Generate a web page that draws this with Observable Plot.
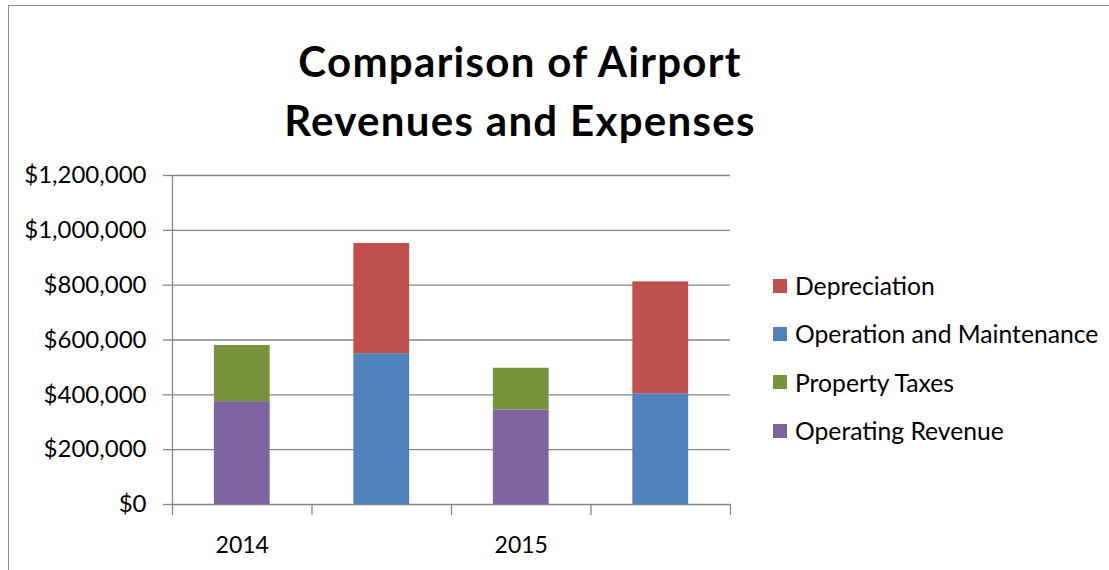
<!DOCTYPE html>
<html>
<head>
<meta charset="utf-8">
<script src="https://cdn.jsdelivr.net/npm/d3@7"></script>
<script src="https://cdn.jsdelivr.net/npm/@observablehq/plot@0.6"></script>
<style>
  html, body { margin: 0; padding: 0; background: #fff; }
  #wrap { position: relative; width: 1109px; height: 570px; overflow: hidden; font-family: Lato, "Open Sans", sans-serif; color: #000; }
  #frame { position: absolute; left: 8px; top: 5px; width: 1200px; height: 700px; border-left: 1.5px solid #8c8c8c; border-top: 1.5px solid #8c8c8c; }
  #title { position: absolute; left: 0; top: 32px; width: 1040px; text-align: center; font-size: 42px; font-weight: 700; line-height: 59px; letter-spacing: 1.3px; }
  #chart { position: absolute; left: 0; top: 150px; }
  #legend { position: absolute; left: 773px; top: 261.5px; font-size: 24.7px; }
  .row { height: 48.3px; display: flex; align-items: center; }
  .sw { width: 14px; height: 14px; margin-right: 8px; }
</style>
</head>
<body>
<div id="wrap">
  <div id="frame"></div>
  <div id="title">Comparison of Airport<br>Revenues and Expenses</div>
  <div id="chart"></div>
  <div id="legend"></div>
</div>
<script>
// Categories (bar positions) and their tick labels
const categories = ["2014 Revenues", "2014 Expenses", "2015 Revenues", "2015 Expenses"];
const tickLabels = ["2014", "", "2015", ""];

// Series (stack order bottom -> top) and colours
const seriesNames = ["Operating Revenue", "Property Taxes", "Operation and Maintenance", "Depreciation"];
const seriesColors = ["#8064A2", "#77933C", "#4F81BD", "#C0504D"];

// Series values per category
const operatingRevenue      = [375000, 0, 345000, 0];
const propertyTaxes         = [205000, 0, 152000, 0];
const operationMaintenance  = [0, 550000, 0, 404000];
const depreciation          = [0, 402000, 0, 408000];

// Y axis ticks
const yTicks = [0, 200000, 400000, 600000, 800000, 1000000, 1200000];

// Legend order (top -> bottom)
const legendOrder = ["Depreciation", "Operation and Maintenance", "Property Taxes", "Operating Revenue"];

const seriesValues = [operatingRevenue, propertyTaxes, operationMaintenance, depreciation];
const rows = [];
categories.forEach((c, i) => {
  seriesNames.forEach((s, k) => {
    const v = seriesValues[k][i];
    if (v > 0) rows.push({i, category: c, series: s, value: v});
  });
});

const boundaries = d3.range(categories.length + 1).map(i => i - 0.5);
const grid = "#868686";
const fmt = d3.format(",");

const chart = Plot.plot({
  width: 740,
  height: 420,
  marginLeft: 172,
  marginRight: 10,
  marginTop: 25,
  marginBottom: 66,
  style: {fontFamily: "Lato, 'Open Sans', sans-serif", fontSize: "24px", color: "#000", background: "transparent", overflow: "visible"},
  x: {domain: [-0.5, categories.length - 0.5]},
  y: {domain: [0, 1200000]},
  color: {domain: seriesNames, range: seriesColors},
  marks: [
    Plot.ruleY(yTicks, {stroke: grid, strokeWidth: 1.3, strokeOpacity: 1}),
    Plot.rectY(rows, Plot.stackY({
      x1: d => d.i - 0.2,
      x2: d => d.i + 0.2,
      y: "value",
      fill: "series",
      order: seriesNames
    })),
    Plot.ruleX([-0.5], {stroke: grid, strokeWidth: 1.3}),
    Plot.axisY({ticks: yTicks, tickFormat: d => "$" + fmt(d), tickSize: 9, tickPadding: 17, fontSize: 24, stroke: grid, strokeWidth: 1.3, strokeOpacity: 1, label: null}),
    Plot.axisX({ticks: boundaries, tickFormat: () => "", tickSize: 11, stroke: grid, strokeWidth: 1.3, strokeOpacity: 1, label: null}),
    Plot.axisX({ticks: d3.range(categories.length), tickFormat: i => tickLabels[i], tickSize: 0, tickPadding: 32, fontSize: 23, label: null})
  ]
});
document.getElementById("chart").appendChild(chart);

const legend = document.getElementById("legend");
legendOrder.forEach(name => {
  const row = document.createElement("div");
  row.className = "row";
  const sw = document.createElement("div");
  sw.className = "sw";
  sw.style.background = seriesColors[seriesNames.indexOf(name)];
  const t = document.createElement("span");
  t.textContent = name;
  row.appendChild(sw);
  row.appendChild(t);
  legend.appendChild(row);
});
</script>
</body>
</html>
